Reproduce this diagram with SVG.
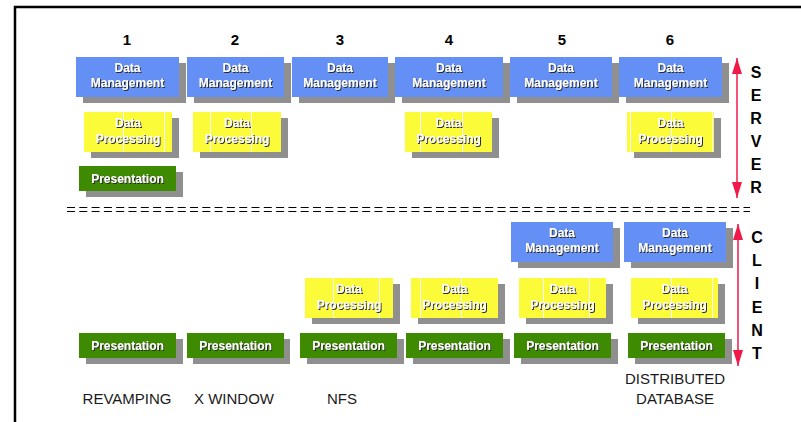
<svg xmlns="http://www.w3.org/2000/svg" width="801" height="422" viewBox="0 0 801 422">
  <defs>
    <style>
      .shadow { fill: #8f8f8f; }
      .dm { fill: #6490f6; }
      .dp { fill: #fbfb3a; }
      .pr { fill: #3e8a00; }
      .seam { stroke: #ffffff; stroke-width: 1; }
      .lbl { font-family: "Liberation Sans", Arial, sans-serif; font-weight: bold; font-size: 12px; fill: #ffffff; text-anchor: middle; filter: url(#txtShadow); }
      .num { font-family: "Liberation Sans", Arial, sans-serif; font-weight: bold; font-size: 15px; fill: #000000; text-anchor: middle; }
      .side { font-family: "Liberation Sans", Arial, sans-serif; font-weight: bold; font-size: 16px; fill: #000000; text-anchor: middle; }
      .cap { font-family: "Liberation Sans", Arial, sans-serif; font-size: 15px; fill: #1a1a1a; text-anchor: middle; }
      .arrow { stroke: #f0194a; stroke-width: 1.5; fill: none; marker-start: url(#headUp); marker-end: url(#headDown); }
      .split { stroke: #000000; stroke-width: 1; stroke-dasharray: 8 4.3; }
    </style>
    <filter id="txtShadow" x="-10%" y="-20%" width="120%" height="150%">
      <feDropShadow dx="1" dy="1" stdDeviation="0" flood-color="#2a2a2a" flood-opacity="1"/>
    </filter>
    <marker id="headDown" viewBox="0 0 10 16" refX="5" refY="16" markerWidth="10" markerHeight="16" markerUnits="userSpaceOnUse" orient="0">
      <path d="M0,0 L10,0 L5,16 Z" fill="#f0194a"/>
    </marker>
    <marker id="headUp" viewBox="0 0 10 16" refX="5" refY="0" markerWidth="10" markerHeight="16" markerUnits="userSpaceOnUse" orient="0">
      <path d="M0,16 L10,16 L5,0 Z" fill="#f0194a"/>
    </marker>
  </defs>

  <rect x="0" y="0" width="801" height="422" fill="#ffffff"/>

  <!-- frame -->
  <path d="M15,422 L15,7 L801,7" fill="none" stroke="#000000" stroke-width="2.5"/>

  <!-- column numbers -->
  <g id="numbers">
    <text class="num" x="127" y="45">1</text>
    <text class="num" x="235" y="45">2</text>
    <text class="num" x="340" y="45">3</text>
    <text class="num" x="449" y="45">4</text>
    <text class="num" x="562" y="45">5</text>
    <text class="num" x="670" y="45">6</text>
  </g>

  <!-- server tier -->
  <g id="s-dm-1"><rect class="shadow" x="83" y="63" width="103" height="40"/><rect class="dm" x="76" y="57" width="103" height="40"/><text class="lbl" x="127.5" y="72">Data</text><text class="lbl" x="127.5" y="87">Management</text></g>
  <g id="s-dm-2"><rect class="shadow" x="194" y="63" width="97" height="40"/><rect class="dm" x="187" y="57" width="97" height="40"/><text class="lbl" x="235.5" y="72">Data</text><text class="lbl" x="235.5" y="87">Management</text></g>
  <g id="s-dm-3"><rect class="shadow" x="299" y="63" width="96" height="40"/><rect class="dm" x="292" y="57" width="96" height="40"/><text class="lbl" x="340" y="72">Data</text><text class="lbl" x="340" y="87">Management</text></g>
  <g id="s-dm-4"><rect class="shadow" x="402" y="63" width="108" height="40"/><rect class="dm" x="395" y="57" width="108" height="40"/><text class="lbl" x="449" y="72">Data</text><text class="lbl" x="449" y="87">Management</text></g>
  <g id="s-dm-5"><rect class="shadow" x="517" y="63" width="102" height="40"/><rect class="dm" x="510" y="57" width="102" height="40"/><text class="lbl" x="561" y="72">Data</text><text class="lbl" x="561" y="87">Management</text></g>
  <g id="s-dm-6"><rect class="shadow" x="626" y="63" width="103" height="40"/><rect class="dm" x="619" y="57" width="103" height="40"/><text class="lbl" x="670.5" y="72">Data</text><text class="lbl" x="670.5" y="87">Management</text></g>

  <g id="s-dp-1"><rect class="shadow" x="91" y="118" width="88" height="40"/><rect class="dp" x="84" y="112" width="88" height="40"/><line class="seam" x1="123.5" y1="112" x2="123.5" y2="152"/><line class="seam" x1="164.5" y1="112" x2="164.5" y2="152"/><text class="lbl" x="128" y="127">Data</text><text class="lbl" x="128" y="143">Processing</text></g>
  <g id="s-dp-2"><rect class="shadow" x="200" y="118" width="88" height="40"/><rect class="dp" x="193" y="112" width="88" height="40"/><line class="seam" x1="210.5" y1="112" x2="210.5" y2="152"/><line class="seam" x1="251.5" y1="112" x2="251.5" y2="152"/><text class="lbl" x="237" y="127">Data</text><text class="lbl" x="237" y="143">Processing</text></g>
  <g id="s-dp-4"><rect class="shadow" x="412" y="118" width="87" height="40"/><rect class="dp" x="405" y="112" width="87" height="40"/><line class="seam" x1="420.5" y1="112" x2="420.5" y2="152"/><line class="seam" x1="462.5" y1="112" x2="462.5" y2="152"/><text class="lbl" x="448.5" y="127">Data</text><text class="lbl" x="448.5" y="143">Processing</text></g>
  <g id="s-dp-6"><rect class="shadow" x="634" y="118" width="87" height="40"/><rect class="dp" x="627" y="112" width="87" height="40"/><line class="seam" x1="630.5" y1="112" x2="630.5" y2="152"/><line class="seam" x1="671.5" y1="112" x2="671.5" y2="152"/><line class="seam" x1="712.5" y1="112" x2="712.5" y2="152"/><text class="lbl" x="670.5" y="127">Data</text><text class="lbl" x="670.5" y="143">Processing</text></g>

  <g id="s-pr-1"><rect class="shadow" x="86" y="172" width="97" height="25"/><rect class="pr" x="79" y="166" width="97" height="25"/><text class="lbl" x="127.5" y="182.5">Presentation</text></g>

  <!-- tier separator -->
  <g id="separator">
    <line class="split" x1="67" y1="207.5" x2="750" y2="207.5"/>
    <line class="split" x1="67" y1="211.5" x2="750" y2="211.5"/>
  </g>

  <!-- client tier -->
  <g id="c-dm-5"><rect class="shadow" x="518" y="228" width="102" height="40"/><rect class="dm" x="511" y="222" width="102" height="40"/><text class="lbl" x="562" y="237">Data</text><text class="lbl" x="562" y="252">Management</text></g>
  <g id="c-dm-6"><rect class="shadow" x="631" y="228" width="102" height="40"/><rect class="dm" x="624" y="222" width="102" height="40"/><text class="lbl" x="675" y="237">Data</text><text class="lbl" x="675" y="252">Management</text></g>

  <g id="c-dp-3"><rect class="shadow" x="312" y="284" width="88" height="40"/><rect class="dp" x="305" y="278" width="88" height="40"/><line class="seam" x1="333.5" y1="278" x2="333.5" y2="318"/><line class="seam" x1="379.5" y1="278" x2="379.5" y2="318"/><text class="lbl" x="349" y="293">Data</text><text class="lbl" x="349" y="309">Processing</text></g>
  <g id="c-dp-4"><rect class="shadow" x="418" y="284" width="87" height="40"/><rect class="dp" x="411" y="278" width="87" height="40"/><line class="seam" x1="420.5" y1="278" x2="420.5" y2="318"/><line class="seam" x1="461.5" y1="278" x2="461.5" y2="318"/><text class="lbl" x="454.5" y="293">Data</text><text class="lbl" x="454.5" y="309">Processing</text></g>
  <g id="c-dp-5"><rect class="shadow" x="526" y="284" width="87" height="40"/><rect class="dp" x="519" y="278" width="87" height="40"/><line class="seam" x1="543.5" y1="278" x2="543.5" y2="318"/><line class="seam" x1="589.5" y1="278" x2="589.5" y2="318"/><text class="lbl" x="562.5" y="293">Data</text><text class="lbl" x="562.5" y="309">Processing</text></g>
  <g id="c-dp-6"><rect class="shadow" x="638" y="284" width="87" height="40"/><rect class="dp" x="631" y="278" width="87" height="40"/><line class="seam" x1="671.5" y1="278" x2="671.5" y2="318"/><line class="seam" x1="712.5" y1="278" x2="712.5" y2="318"/><text class="lbl" x="674.5" y="293">Data</text><text class="lbl" x="674.5" y="309">Processing</text></g>

  <g id="c-pr-1"><rect class="shadow" x="86" y="339" width="97" height="25"/><rect class="pr" x="79" y="333" width="97" height="25"/><text class="lbl" x="127.5" y="349.5">Presentation</text></g>
  <g id="c-pr-2"><rect class="shadow" x="193" y="339" width="97" height="25"/><rect class="pr" x="187" y="333" width="97" height="25"/><text class="lbl" x="235.5" y="349.5">Presentation</text></g>
  <g id="c-pr-3"><rect class="shadow" x="307" y="339" width="97" height="25"/><rect class="pr" x="300" y="333" width="97" height="25"/><text class="lbl" x="348.5" y="349.5">Presentation</text></g>
  <g id="c-pr-4"><rect class="shadow" x="413" y="339" width="97" height="25"/><rect class="pr" x="406" y="333" width="97" height="25"/><text class="lbl" x="454.5" y="349.5">Presentation</text></g>
  <g id="c-pr-5"><rect class="shadow" x="521" y="339" width="97" height="25"/><rect class="pr" x="514" y="333" width="97" height="25"/><text class="lbl" x="562.5" y="349.5">Presentation</text></g>
  <g id="c-pr-6"><rect class="shadow" x="635" y="339" width="97" height="25"/><rect class="pr" x="628" y="333" width="97" height="25"/><text class="lbl" x="676.5" y="349.5">Presentation</text></g>

  <!-- tier extent arrows -->
  <g id="connectors">
    <line class="arrow" x1="737" y1="58" x2="737" y2="198"/>
    <line class="arrow" x1="738" y1="224" x2="738" y2="366"/>
  </g>

  <!-- tier names -->
  <g id="server-label">
    <text class="side" x="756" y="78">S</text>
    <text class="side" x="756" y="101">E</text>
    <text class="side" x="756" y="124">R</text>
    <text class="side" x="756" y="147">V</text>
    <text class="side" x="756" y="170">E</text>
    <text class="side" x="756" y="193">R</text>
  </g>
  <g id="client-label">
    <text class="side" x="757" y="243">C</text>
    <text class="side" x="757" y="266">L</text>
    <text class="side" x="757" y="289">I</text>
    <text class="side" x="757" y="313">E</text>
    <text class="side" x="757" y="336">N</text>
    <text class="side" x="757" y="359">T</text>
  </g>

  <!-- configuration names -->
  <g id="captions">
    <text class="cap" x="127" y="404">REVAMPING</text>
    <text class="cap" x="234" y="404">X WINDOW</text>
    <text class="cap" x="342" y="404">NFS</text>
    <text class="cap" x="675" y="384">DISTRIBUTED</text>
    <text class="cap" x="675" y="404">DATABASE</text>
  </g>
</svg>
